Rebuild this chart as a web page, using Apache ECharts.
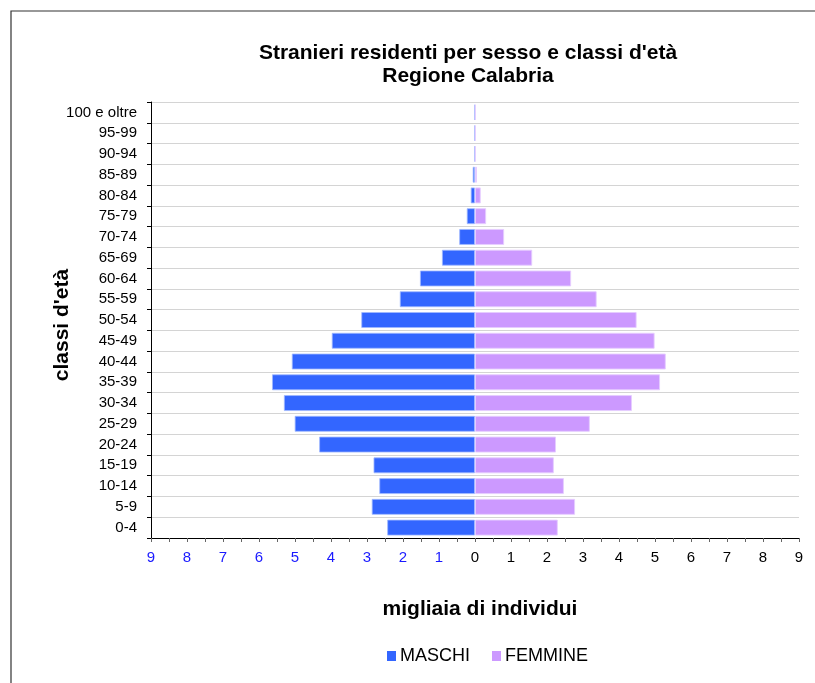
<!DOCTYPE html>
<html>
<head>
<meta charset="utf-8">
<script src="https://cdn.jsdelivr.net/npm/echarts@6/dist/echarts.min.js"></script>
<style>html,body{margin:0;padding:0;background:#fff;}#c{width:815px;height:683px;}</style>
</head>
<body>
<div id="c"></div>
<script>
const categories = ['0-4','5-9','10-14','15-19','20-24','25-29','30-34','35-39','40-44','45-49','50-54','55-59','60-64','65-69','70-74','75-79','80-84','85-89','90-94','95-99','100 e oltre'];
const maschi = [2.44, 2.87, 2.66, 2.82, 4.33, 5.01, 5.31, 5.64, 5.09, 3.98, 3.16, 2.09, 1.53, 0.92, 0.44, 0.23, 0.12, 0.065, 0.02, 0.02, 0.02];
const femmine = [2.30, 2.78, 2.47, 2.19, 2.25, 3.19, 4.36, 5.14, 5.30, 4.99, 4.49, 3.38, 2.67, 1.59, 0.81, 0.31, 0.16, 0.055, 0.02, 0.02, 0.02];
const xMin = -9, xMax = 9, xInterval = 1;

const chart = echarts.init(document.getElementById('c'), null, {renderer: 'canvas'});
const font = '"Liberation Sans", Arial, sans-serif';
chart.setOption({
  animation: false,
  textStyle: {fontFamily: font},
  graphic: [{
    type: 'rect', shape: {x: 11, y: 11, width: 900, height: 800},
    style: {fill: 'none', stroke: '#333', lineWidth: 1.2}, silent: true, z: -10
  }],
  title: {
    text: "Stranieri residenti per sesso e classi d'età\nRegione Calabria",
    left: 463, top: 37, textAlign: 'center',
    textStyle: {fontFamily: font, fontSize: 21, fontWeight: 'bold', color: '#000', lineHeight: 23}
  },
  legend: {
    top: 642, left: 382, itemWidth: 9, itemHeight: 10, itemGap: 22,
    icon: 'rect',
    itemStyle: {borderWidth: 0},
    textStyle: {fontFamily: font, fontSize: 18, color: '#000', padding: [0, 0, 0, -1]},
    data: ['MASCHI', 'FEMMINE']
  },
  grid: {left: 151, right: 16, top: 102, bottom: 145},
  xAxis: {
    type: 'value', min: xMin, max: xMax, interval: xInterval,
    name: 'migliaia di individui', nameLocation: 'middle', nameGap: 61,
    nameTextStyle: {fontFamily: font, fontSize: 21, fontWeight: 'bold', color: '#000', padding: [0, 0, 0, 10]},
    axisLine: {show: true, lineStyle: {color: '#000', width: 1}},
    axisTick: {show: true, length: 4, lineStyle: {color: '#666'}},
    minorTick: {show: true, splitNumber: 2, length: 4, lineStyle: {color: '#666'}},
    splitLine: {show: false},
    axisLabel: {
      margin: 12, fontSize: 15, fontFamily: font,
      formatter: v => String(Math.abs(v)),
      color: v => (v < 0 ? '#1a1aff' : '#000')
    }
  },
  yAxis: {
    type: 'category', data: categories,
    name: "classi d'età", nameLocation: 'middle', nameGap: 78, nameRotate: 90,
    nameMoveOverlap: false,
    nameTextStyle: {fontFamily: font, fontSize: 21, fontWeight: 'bold', color: '#000', padding: [0, 10, 0, 0]},
    axisLine: {show: true, onZero: false, lineStyle: {color: '#000', width: 1}},
    axisTick: {show: true, length: 4, lineStyle: {color: '#000'}},
    splitLine: {show: true, lineStyle: {color: '#d4d4d4', width: 1}},
    axisLabel: {margin: 14, fontSize: 15, fontFamily: font, color: '#000'}
  },
  series: [
    {
      name: 'MASCHI', type: 'bar', stack: 'tot', barWidth: 16,
      data: maschi.map(v => -v),
      itemStyle: {color: '#3366ff', borderColor: 'rgba(160,185,255,0.8)', borderWidth: 1}
    },
    {
      name: 'FEMMINE', type: 'bar', stack: 'tot', barWidth: 16,
      data: femmine,
      itemStyle: {color: '#cc99ff', borderColor: 'rgba(230,205,255,0.9)', borderWidth: 1}
    }
  ]
});
</script>
</body>
</html>
